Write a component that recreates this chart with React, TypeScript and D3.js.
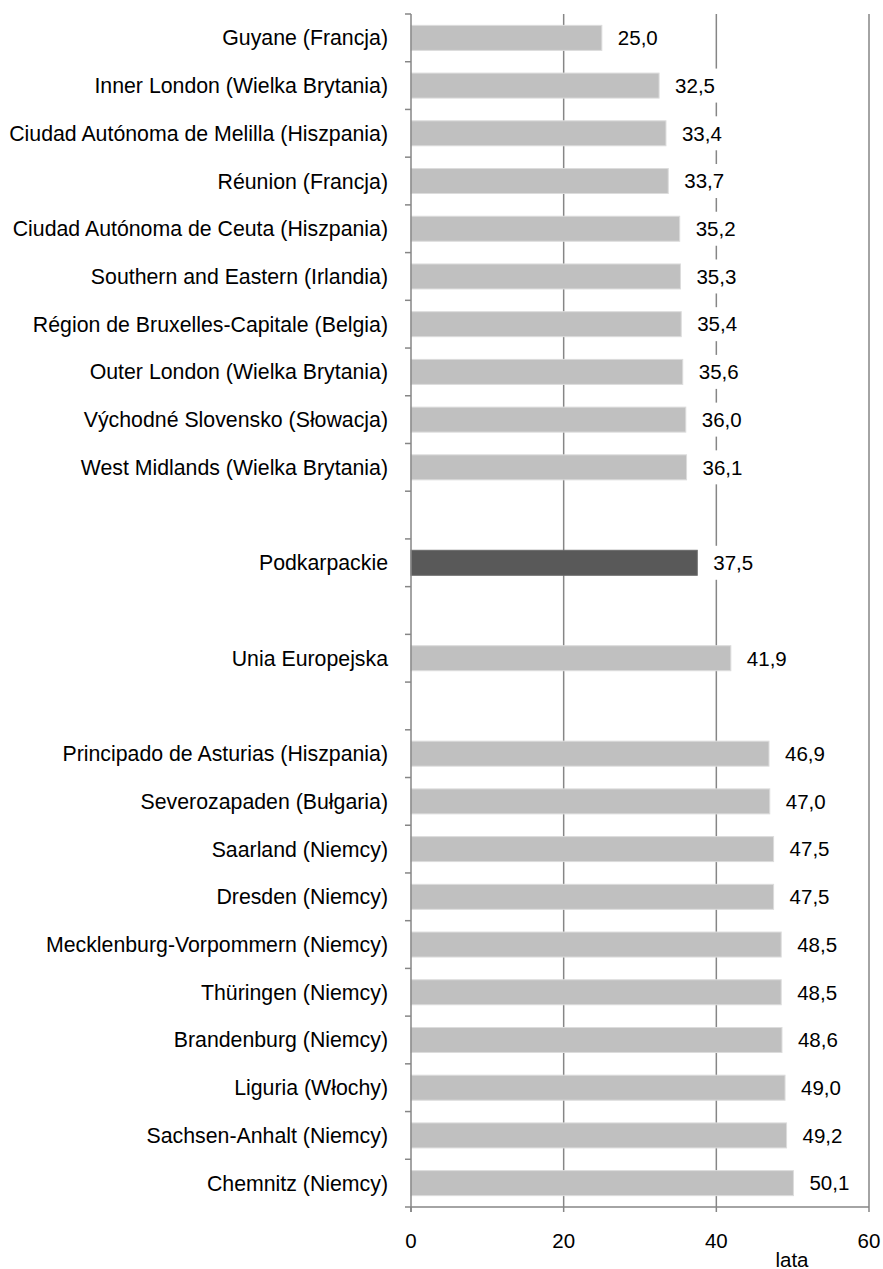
import React from "react";
import * as d3 from "d3";

const categories: string[] = [
  "Guyane (Francja)",
  "Inner London (Wielka Brytania)",
  "Ciudad Autónoma de Melilla (Hiszpania)",
  "Réunion (Francja)",
  "Ciudad Autónoma de Ceuta (Hiszpania)",
  "Southern and Eastern (Irlandia)",
  "Région de Bruxelles-Capitale (Belgia)",
  "Outer London (Wielka Brytania)",
  "Východné Slovensko (Słowacja)",
  "West Midlands (Wielka Brytania)",
  "",
  "Podkarpackie",
  "",
  "Unia Europejska",
  "",
  "Principado de Asturias (Hiszpania)",
  "Severozapaden (Bułgaria)",
  "Saarland (Niemcy)",
  "Dresden (Niemcy)",
  "Mecklenburg-Vorpommern (Niemcy)",
  "Thüringen (Niemcy)",
  "Brandenburg (Niemcy)",
  "Liguria (Włochy)",
  "Sachsen-Anhalt (Niemcy)",
  "Chemnitz (Niemcy)",
];

const values: (number | null)[] = [
  25.0, 32.5, 33.4, 33.7, 35.2, 35.3, 35.4, 35.6, 36.0, 36.1,
  null, 37.5, null, 41.9, null,
  46.9, 47.0, 47.5, 47.5, 48.5, 48.5, 48.6, 49.0, 49.2, 50.1,
];

const highlighted: string[] = ["Podkarpackie"];
const xTicks: number[] = [0, 20, 40, 60];
const xDomain: [number, number] = [0, 60];
const axisTitle = "lata";

const W = 883;
const H = 1269;
const FONT = "'Liberation Sans', Arial, Helvetica, sans-serif";

export default function App() {
  const x = d3.scaleLinear().domain(xDomain).range([411, 869]);
  const idx = categories.map((_, i) => i);
  const y = d3
    .scaleBand<number>()
    .domain(idx)
    .range([14, 1207])
    .paddingInner(0.476)
    .paddingOuter(0.238);
  const step = y.step();
  const top = 14;
  const bottom = 1207;
  const fmt = (v: number) => v.toFixed(1).replace(".", ",");
  const axisColor = "#868686";
  const labelFs = 20.5;

  const boundaries = d3.range(categories.length + 1).map((i) => top + i * step);

  return (
    <svg
      width={W}
      height={H}
      style={{ position: "absolute", left: 0, top: 0, display: "block", background: "#fff" }}
      fontFamily={FONT}
    >
      <rect x={0} y={0} width={W} height={H} fill="#fff" />
      {xTicks
        .filter((t) => t !== 0)
        .map((t) => (
          <line key={"g" + t} x1={x(t)} x2={x(t)} y1={top} y2={bottom} stroke={axisColor} strokeWidth={1.5} />
        ))}
      {idx.map((i) => {
        const v = values[i];
        if (v == null) return null;
        const dark = highlighted.includes(categories[i]);
        return (
          <rect
            key={"b" + i}
            x={x(0)}
            y={y(i)!}
            width={x(v) - x(0)}
            height={y.bandwidth()}
            fill={dark ? "#595959" : "#c0c0c0"}
            stroke={dark ? "#6a6a6a" : "#dcdcdc"}
            strokeWidth={1}
          />
        );
      })}
      {idx.map((i) => {
        const v = values[i];
        if (v == null) return null;
        const cy = y(i)! + y.bandwidth() / 2;
        const lx = x(v) + 16;
        const tw = 40;
        return (
          <g key={"l" + i}>
            <rect x={lx - 5} y={cy - 17} width={tw + 10} height={34} fill="#fff" />
            <text x={lx} y={cy + 7.3} fontSize={labelFs} fill="#000">
              {fmt(v)}
            </text>
          </g>
        );
      })}
      {idx.map((i) =>
        categories[i] ? (
          <text
            key={"c" + i}
            x={388}
            y={y(i)! + y.bandwidth() / 2 + 7.5}
            fontSize={21.3}
            textAnchor="end"
            fill="#000"
          >
            {categories[i]}
          </text>
        ) : null
      )}
      <line x1={x(0)} x2={x(0)} y1={top} y2={bottom + 5} stroke={axisColor} strokeWidth={1.5} />
      {boundaries.map((b, i) => (
        <line key={"yt" + i} x1={x(0) - 6} x2={x(0)} y1={b} y2={b} stroke={axisColor} strokeWidth={1.5} />
      ))}
      <line x1={x(0)} x2={x(60)} y1={bottom} y2={bottom} stroke={axisColor} strokeWidth={1.5} />
      {xTicks.map((t) => (
        <g key={"xt" + t}>
          <line x1={x(t)} x2={x(t)} y1={bottom} y2={bottom + 5} stroke={axisColor} strokeWidth={1.5} />
          <text x={x(t)} y={1248} fontSize={labelFs} textAnchor="middle" fill="#000">
            {t}
          </text>
        </g>
      ))}
      <text x={792} y={1266.5} fontSize={labelFs} textAnchor="middle" fill="#000">
        {axisTitle}
      </text>
    </svg>
  );
}
